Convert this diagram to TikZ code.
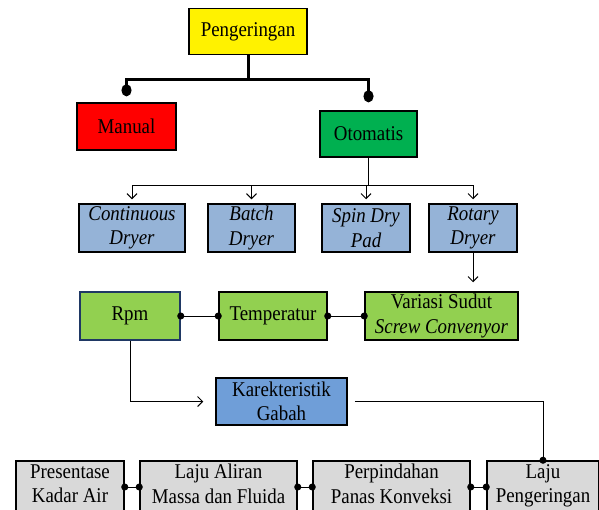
\documentclass[tikz,border=0pt]{standalone}
\usepackage{fontspec}
\setmainfont[FakeStretch=0.9]{Liberation Serif}
\usetikzlibrary{arrows.meta}
\definecolor{otogreen}{RGB}{0,176,80}
\definecolor{dryblue}{RGB}{149,179,215}
\definecolor{varigreen}{RGB}{146,208,80}
\definecolor{gabahblue}{RGB}{111,158,216}
\definecolor{sifatgray}{RGB}{217,217,217}
\definecolor{rpmborder}{RGB}{31,56,100}
\tikzset{
	blok/.style={draw,line width=1.5pt,align=center,inner sep=0pt,font=\fontsize{21}{24.5}\selectfont},
	miring/.style={blok,font=\fontsize{21}{24.5}\selectfont\itshape},
	sifat/.style={blok,fill=sifatgray,minimum height=52,text depth=7pt},
	trunk/.style={line width=3pt},
	link/.style={line width=1pt},
	arr/.style={-{Straight Barb[length=5pt,width=10pt]}},
	dots/.style={{Circle[length=7pt]}-{Circle[length=7pt]},shorten <=-3.5pt,shorten >=-3.5pt},
}
\begin{document}
\begin{tikzpicture}[x=1pt,y=-1pt]
	\useasboundingbox(0,0)rectangle(599,509);
	% tingkat atas
	\node[blok,fill=yellow,minimum width=118,minimum height=46](peng)at(248,31.5){Pengeringan};
	\node[blok,fill=red,minimum width=99,minimum height=47](manual)at(126.5,126.5){Manual};
	\node[blok,fill=otogreen,minimum width=97,minimum height=46](oto)at(368.5,134){Otomatis};
	\draw[trunk](peng.south)--++(0,24)coordinate(fork);
	\draw[trunk,-{Ellipse[length=12pt,width=10pt]},shorten >=6pt](fork)-|(manual.north);
	\draw[trunk,-{Ellipse[length=12pt,width=10pt]},shorten >=8pt](fork)-|(oto.north);
	% jenis pengering
	\node[miring,fill=dryblue,minimum width=106,minimum height=48](cont)at(132,228){Continuous\\Dryer};
	\node[miring,fill=dryblue,minimum width=87,minimum height=48](batch)at(251.5,228){Batch\\Dryer};
	\node[miring,fill=dryblue,minimum width=88,minimum height=48](spin)at(366,228){Spin Dry\\Pad};
	\node[miring,fill=dryblue,minimum width=88,minimum height=48](rotary)at(473,228){Rotary\\Dryer};
	\draw[link](oto.south)--++(0,28)coordinate(split);
	\foreach \n in {cont,batch,spin,rotary}
		\draw[link,arr,shorten >=4pt](split)-|(\n.north);
	% variabel
	\node[blok,draw=rpmborder,fill=varigreen,minimum width=100,minimum height=48](rpm)at(130,316){Rpm};
	\node[blok,fill=varigreen,minimum width=108,minimum height=48](temp)at(273,316){Temperatur};
	\node[blok,fill=varigreen,minimum width=153,minimum height=48](vari)at(441.5,316){Variasi Sudut\\\textit{Screw Convenyor}};
	\draw[link,arr,shorten >=9pt](rotary.south)--(rotary.south|-vari.north);
	\draw[link,dots](rpm.east)--(temp.west);
	\draw[link,dots](temp.east)--(vari.west);
	% karakteristik
	\node[blok,fill=gabahblue,minimum width=131,minimum height=47](gabah)at(281.5,401.5){Karekteristik\\Gabah};
	\draw[link,arr,shorten >=12pt](rpm.south)|-(gabah.west);
	% sifat pengeringan
	\node[sifat,minimum width=108](kadar)at(70,487){Presentase\\Kadar Air};
	\node[sifat,minimum width=157](aliran)at(218.5,487){Laju Aliran\\Massa dan Fluida};
	\node[sifat,minimum width=157](panas)at(391.5,487){Perpindahan\\Panas Konveksi};
	\node[sifat,minimum width=112](laju)at(543,487){Laju\\Pengeringan};
	\draw[link,shorten <=7pt,-{Circle[length=7pt]},shorten >=-3.5pt](gabah.east)-|(laju.north);
	\draw[link,dots](kadar.east)--(aliran.west);
	\draw[link,dots](aliran.east)--(panas.west);
	\draw[link,dots](panas.east)--(laju.west);
\end{tikzpicture}
\end{document}
